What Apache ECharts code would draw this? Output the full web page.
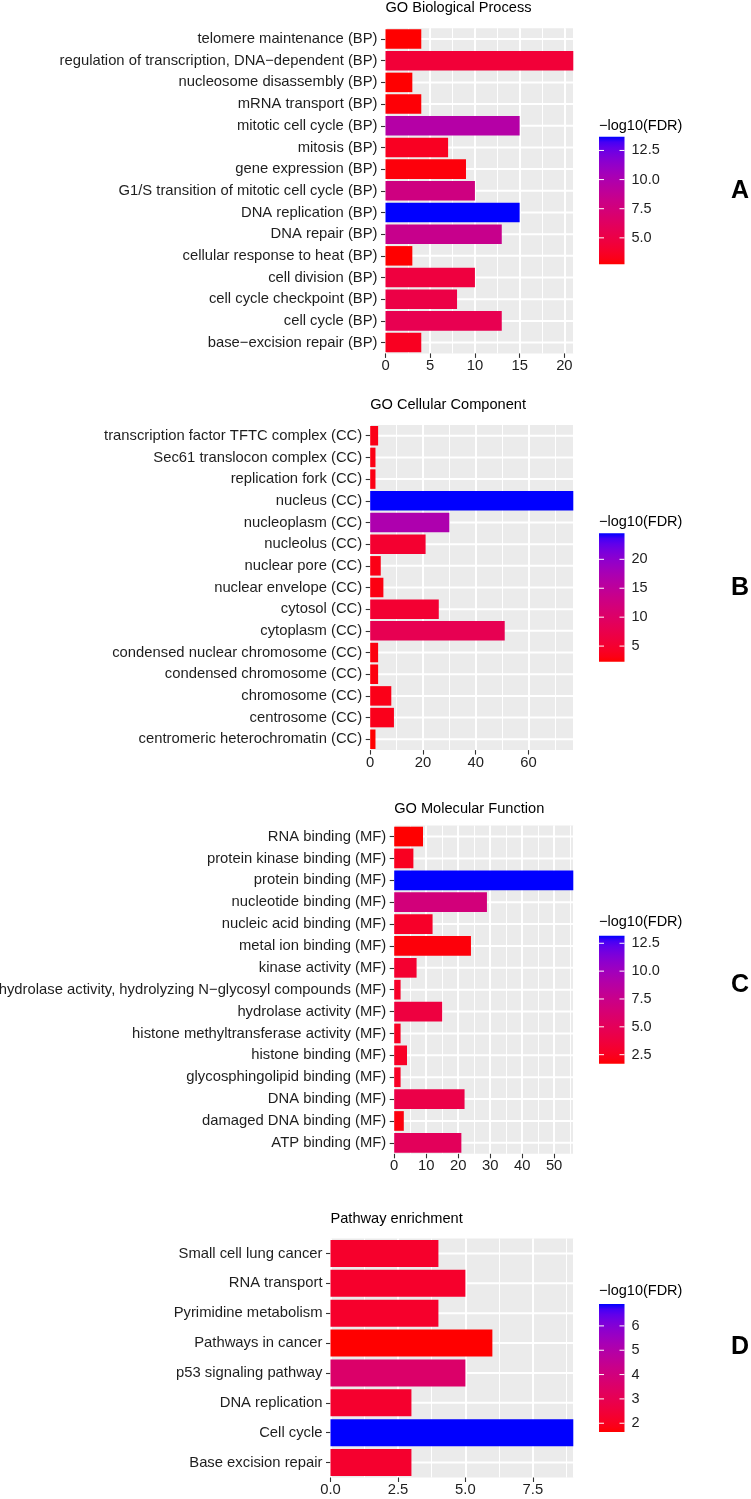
<!DOCTYPE html>
<html><head><meta charset="utf-8">
<script src="https://cdn.jsdelivr.net/npm/echarts@6/dist/echarts.min.js"></script>
<style>html,body{margin:0;padding:0;background:#fff}#c{width:751px;height:1499px}</style>
</head><body><div id="c"></div>
<script>
// ---------- DATA ----------
const bpTitle = 'GO Biological Process';
const bpCategories = ['telomere maintenance (BP)','regulation of transcription, DNA\u2212dependent (BP)','nucleosome disassembly (BP)','mRNA transport (BP)','mitotic cell cycle (BP)','mitosis (BP)','gene expression (BP)','G1/S transition of mitotic cell cycle (BP)','DNA replication (BP)','DNA repair (BP)','cellular response to heat (BP)','cell division (BP)','cell cycle checkpoint (BP)','cell cycle (BP)','base\u2212excision repair (BP)'];
const bpCounts = [4,21,3,4,15,7,9,10,15,13,3,10,8,13,4];
const bpLogFdr = [2.73,4.37,2.75,2.85,9.6,3.55,2.95,7.8,13.68,8.4,2.73,4.7,5.0,5.5,3.5];
const bpTickLabels = ['0','5','10','15','20'];
const bpXMax = 21;
const bpLegendLabels = ['5.0','7.5','10.0','12.5'];
const bpLegendRange = [2.73,13.68];

const ccTitle = 'GO Cellular Component';
const ccCategories = ['transcription factor TFTC complex (CC)','Sec61 translocon complex (CC)','replication fork (CC)','nucleus (CC)','nucleoplasm (CC)','nucleolus (CC)','nuclear pore (CC)','nuclear envelope (CC)','cytosol (CC)','cytoplasm (CC)','condensed nuclear chromosome (CC)','condensed chromosome (CC)','chromosome (CC)','centrosome (CC)','centromeric heterochromatin (CC)'];
const ccCounts = [3,2,2,77,30,21,4,5,26,51,3,3,8,9,2];
const ccLogFdr = [3.2,3.1,3.1,24.5,17.0,5.0,3.2,3.0,5.2,8.1,2.9,2.9,3.3,3.5,2.3];
const ccTickLabels = ['0','20','40','60'];
const ccXMax = 77;
const ccLegendLabels = ['5','10','15','20'];
const ccLegendRange = [2.3,24.5];

const mfTitle = 'GO Molecular Function';
const mfCategories = ['RNA binding (MF)','protein kinase binding (MF)','protein binding (MF)','nucleotide binding (MF)','nucleic acid binding (MF)','metal ion binding (MF)','kinase activity (MF)','hydrolase activity, hydrolyzing N\u2212glycosyl compounds (MF)','hydrolase activity (MF)','histone methyltransferase activity (MF)','histone binding (MF)','glycosphingolipid binding (MF)','DNA binding (MF)','damaged DNA binding (MF)','ATP binding (MF)'];
const mfCounts = [9,6,56,29,12,24,7,2,15,2,4,2,22,3,21];
const mfLogFdr = [1.7,2.5,13.18,6.7,2.8,1.9,3.1,2.8,3.8,2.6,2.7,2.7,4.2,2.0,5.1];
const mfTickLabels = ['0','10','20','30','40','50'];
const mfXMax = 56;
const mfLegendLabels = ['2.5','5.0','7.5','10.0','12.5'];
const mfLegendRange = [1.69,13.18];

const pwTitle = 'Pathway enrichment';
const pwCategories = ['Small cell lung cancer','RNA transport','Pyrimidine metabolism','Pathways in cancer','p53 signaling pathway','DNA replication','Cell cycle','Base excision repair'];
const pwCounts = [4,5,4,6,5,3,9,3];
const pwLogFdr = [2.2,2.2,2.2,1.64,3.55,2.25,6.9,2.25];
const pwTickLabels = ['0.0','2.5','5.0','7.5'];
const pwXMax = 9;
const pwLegendLabels = ['2','3','4','5','6'];
const pwLegendRange = [1.64,6.9];

const legendTitle = '\u2212log10(FDR)';
const panelLetters = ['A','B','C','D'];

// ---------- LAYOUT (pixels) ----------
const layout = [
  {left:385.5, top:28.2, width:187.8, height:325.2, titleY:8, legTitleY:126, legTop:136.7, legH:127.6, letterY:191},
  {left:370.2, top:424.9, width:203.1, height:325.2, titleY:405, legTitleY:521.7, legTop:533.3, legH:128.4, letterY:588},
  {left:394.2, top:825.6, width:179.1, height:328.2, titleY:809, legTitleY:922.3, legTop:935.7, legH:128, letterY:985.5},
  {left:330.5, top:1238.5, width:242.8, height:239, titleY:1219, legTitleY:1290.7, legTop:1304, legH:128, letterY:1347}
];

const panels = [
  {title:bpTitle, cats:bpCategories, counts:bpCounts, fdr:bpLogFdr, ticks:bpTickLabels, xMax:bpXMax, legLabels:bpLegendLabels, legRange:bpLegendRange},
  {title:ccTitle, cats:ccCategories, counts:ccCounts, fdr:ccLogFdr, ticks:ccTickLabels, xMax:ccXMax, legLabels:ccLegendLabels, legRange:ccLegendRange},
  {title:mfTitle, cats:mfCategories, counts:mfCounts, fdr:mfLogFdr, ticks:mfTickLabels, xMax:mfXMax, legLabels:mfLegendLabels, legRange:mfLegendRange},
  {title:pwTitle, cats:pwCategories, counts:pwCounts, fdr:pwLogFdr, ticks:pwTickLabels, xMax:pwXMax, legLabels:pwLegendLabels, legRange:pwLegendRange}
];

// ---------- colour gradient (CIELAB interpolation, like ggplot) ----------
function s2l(c){c/=255;return c<=0.04045?c/12.92:Math.pow((c+0.055)/1.055,2.4);}
function l2s(c){c=Math.max(0,Math.min(1,c));return c<=0.0031308?12.92*c:1.055*Math.pow(c,1/2.4)-0.055;}
function rgb2lab(rgb){
  const R=s2l(rgb[0]),G=s2l(rgb[1]),B=s2l(rgb[2]);
  const x=(0.4124*R+0.3576*G+0.1805*B)/0.95047, y=0.2126*R+0.7152*G+0.0722*B, z=(0.0193*R+0.1192*G+0.9505*B)/1.08883;
  const f=t=>t>0.008856?Math.cbrt(t):7.787*t+16/116;
  const fx=f(x),fy=f(y),fz=f(z);
  return [116*fy-16,500*(fx-fy),200*(fy-fz)];
}
function lab2rgb(lab){
  const fy=(lab[0]+16)/116, fx=fy+lab[1]/500, fz=fy-lab[2]/200;
  const fi=t=>t*t*t>0.008856?t*t*t:(t-16/116)/7.787;
  const x=fi(fx)*0.95047,y=fi(fy),z=fi(fz)*1.08883;
  const R=3.2406*x-1.5372*y-0.4986*z, G=-0.9689*x+1.8758*y+0.0415*z, B=0.0557*x-0.2040*y+1.0570*z;
  return 'rgb('+[R,G,B].map(c=>Math.round(255*l2s(c))).join(',')+')';
}
const lowLab=rgb2lab([255,0,0]), highLab=rgb2lab([0,0,255]);
const gradColors=[];
for(let i=0;i<=24;i++){const t=i/24;gradColors.push(lab2rgb(lowLab.map((v,k)=>v+(highLab[k]-v)*t)));}

// ---------- build option ----------
const FONT='Liberation Sans, Arial, Helvetica, sans-serif';
const TXT='#1e1e1e';
const grid=[],xAxis=[],yAxis=[],series=[],visualMap=[],graphic=[];

panels.forEach((p,i)=>{
  const L=layout[i];
  const tickVals=p.ticks.map(Number);
  const step=tickVals[1]-tickVals[0];
  const legVals=p.legLabels.map(Number);
  // main grid
  const g=grid.length;
  grid.push({left:L.left, top:L.top, width:L.width, height:L.height, show:true, backgroundColor:'#EBEBEB', borderWidth:0, containLabel:false, outerBoundsMode:'none'});
  const xMajor=xAxis.length;
  xAxis.push({type:'value', gridIndex:g, min:0, max:p.xMax, interval:step,
    axisLine:{show:false},
    axisTick:{show:true, length:4.5, lineStyle:{color:'#333333', width:1.1}, customValues:tickVals},
    axisLabel:{customValues:tickVals, fontSize:14.8, color:TXT, fontFamily:FONT, margin:5,
      formatter:v=>{const k=tickVals.indexOf(v);return k>=0?p.ticks[k]:'';}},
    splitLine:{show:true, lineStyle:{color:'#ffffff', width:2}}});
  xAxis.push({type:'value', gridIndex:g, min:0, max:p.xMax, interval:step/2,
    axisLine:{show:false}, axisTick:{show:false}, axisLabel:{show:false},
    splitLine:{show:true, lineStyle:{color:'#ffffff', width:1}}});
  const yMain=yAxis.length;
  yAxis.push({type:'category', gridIndex:g, data:p.cats, inverse:true,
    axisLine:{show:false},
    axisTick:{show:true, alignWithLabel:true, length:4.5, lineStyle:{color:'#333333', width:1.1}},
    axisLabel:{interval:0, fontSize:14.8, color:TXT, fontFamily:FONT, margin:8, hideOverlap:false},
    splitLine:{show:false}});
  // horizontal gridlines at category centres
  series.push({type:'custom', xAxisIndex:xMajor, yAxisIndex:yMain, silent:true, z:1,
    data:p.cats.map((c,j)=>[0,j]), encode:{x:0,y:1},
    renderItem:(params,api)=>{
      const cs=params.coordSys; const y=api.coord([0,api.value(1)])[1];
      return {type:'line', shape:{x1:cs.x,y1:y,x2:cs.x+cs.width,y2:y}, style:{stroke:'#ffffff', lineWidth:2}};
    }});
  const barIdx=series.length;
  series.push({type:'bar', xAxisIndex:xMajor, yAxisIndex:yMain, z:2, barCategoryGap:'10%',
    data:p.cats.map((c,j)=>[p.counts[j], c, p.fdr[j]]), encode:{x:0,y:1}});
  visualMap.push({type:'continuous', show:false, seriesIndex:barIdx, dimension:2,
    min:p.legRange[0], max:p.legRange[1], inRange:{color:gradColors}});
  // legend colour bar
  const lg=grid.length;
  grid.push({left:599, top:L.legTop, width:25.5, height:L.legH, show:false, containLabel:false, outerBoundsMode:'none'});
  const lx=xAxis.length;
  xAxis.push({type:'value', gridIndex:lg, min:0, max:1, show:false});
  const ly=yAxis.length;
  yAxis.push({type:'value', gridIndex:lg, min:p.legRange[0], max:p.legRange[1], position:'right',
    axisLine:{show:false}, axisTick:{show:false}, splitLine:{show:false},
    axisLabel:{customValues:legVals, fontSize:14.5, color:TXT, fontFamily:FONT, margin:7,
      formatter:v=>{const k=legVals.indexOf(v);return k>=0?p.legLabels[k]:'';}}});
  series.push({type:'custom', xAxisIndex:lx, yAxisIndex:ly, silent:true,
    data:[[0.5,p.legRange[0]]], encode:{x:0,y:1},
    renderItem:(params,api)=>{
      const cs=params.coordSys;
      const stops=gradColors.map((c,k)=>({offset:k/(gradColors.length-1), color:c}));
      const children=[{type:'rect', shape:{x:cs.x,y:cs.y,width:cs.width,height:cs.height},
        style:{fill:new echarts.graphic.LinearGradient(0,1,0,0,stops)}}];
      legVals.forEach(v=>{
        const y=api.coord([0,v])[1];
        children.push({type:'line', shape:{x1:cs.x,y1:y,x2:cs.x+5,y2:y}, style:{stroke:'#ffffff',lineWidth:1}});
        children.push({type:'line', shape:{x1:cs.x+cs.width-5,y1:y,x2:cs.x+cs.width,y2:y}, style:{stroke:'#ffffff',lineWidth:1}});
      });
      return {type:'group', children};
    }});
  // texts
  graphic.push({type:'text', x:L.left, y:L.titleY, style:{text:p.title, fontSize:14.6, fill:'#000', fontFamily:FONT, textAlign:'left', textVerticalAlign:'middle'}});
  graphic.push({type:'text', x:599, y:L.legTitleY, style:{text:legendTitle, fontSize:14.5, fill:'#000', fontFamily:FONT, textAlign:'left', textVerticalAlign:'middle'}});
  graphic.push({type:'text', x:740, y:L.letterY, style:{text:panelLetters[i], fontSize:25, fontWeight:'bold', fill:'#000', fontFamily:FONT, textAlign:'center', textVerticalAlign:'middle'}});
});

const chart=echarts.init(document.getElementById('c'),null,{renderer:'canvas'});
chart.setOption({backgroundColor:'#ffffff', animation:false, grid, xAxis, yAxis, series, visualMap, graphic});
</script></body></html>
